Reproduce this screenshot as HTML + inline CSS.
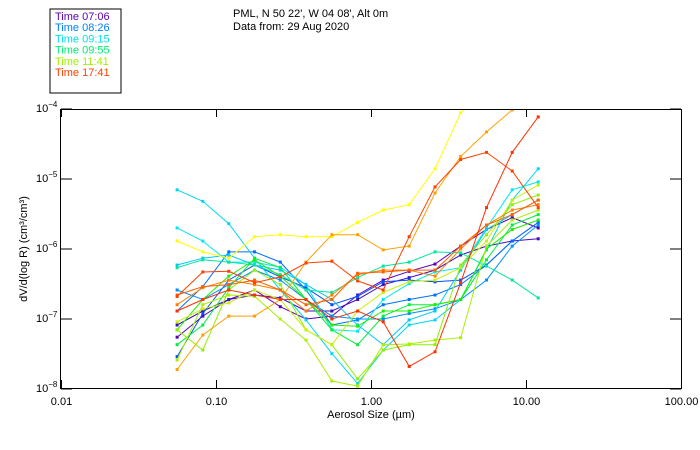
<!DOCTYPE html>
<html><head><meta charset="utf-8"><style>
body{margin:0;background:#fff;}
svg{display:block;font-family:"Liberation Sans",sans-serif;}
</style></head><body>
<svg id="chart" width="700" height="450">
<rect x="50" y="9" width="71" height="84" fill="none" stroke="#000"/>
<g id="legend" font-size="11"></g>
<text x="233" y="17" font-size="11">PML, N 50 22', W 04 08', Alt 0m</text>
<text x="233" y="30" font-size="11">Data from: 29 Aug 2020</text>
<g id="series"></g>
<rect x="60.5" y="109.5" width="621" height="279" fill="none" stroke="#000"/>
<g id="axes" font-size="11"></g>
<text x="371" y="418" font-size="11" text-anchor="middle">Aerosol Size (µm)</text>
<text transform="translate(27,249) rotate(-90)" font-size="11" text-anchor="middle">dV/d(log R) (cm³/cm³)</text>
</svg>
<script>
const sizes=[0.0557,0.0816,0.120,0.176,0.258,0.378,0.555,0.814,1.19,1.75,2.57,3.76,5.52,8.09,11.9];
const xTicks=[0.01,0.1,1,10,100];
const xTickLabels=["0.01","0.10","1.00","10.00","100.00"];
const yTicks=[-4,-5,-6,-7,-8];
const legendLabels=["Time 07:06","Time 08:26","Time 09:15","Time 09:55","Time 11:41","Time 17:41"];
const legendColors=["#5a00b4","#0080ff","#00e0f0","#00f070","#a0f000","#ff4000"];
const seriesColors=["#5a00b4","#4010c0","#0050ff","#0070ff","#0090ff","#00d8f0","#00e8f0","#00c8f8","#00e8a0","#00f040","#20f000","#90f000","#a8f000","#c8f000","#ffff00","#ffa000","#ff8000","#ff6000","#ff4000","#ff3000"];
const pix=[
[337,317,300,290,307,318,315,295,280,271,264,245,230,218,228],
[325,312,300,295,298,310,312,300,285,278,270,255,245,240,238],
[357,313,280,265,277,288,304,297,282,280,282,280,265,240,223],
[310,287,252,252,262,290,325,320,305,300,295,285,265,240,222],
[290,300,285,270,280,300,315,318,318,313,308,300,280,245,225],
[190,201,224,258,290,320,354,383,350,325,320,300,250,200,168],
[228,241,262,262,267,285,330,331,300,284,272,268,228,190,182],
[265,258,255,265,270,285,300,325,345,320,310,270,230,215,200],
[268,260,262,265,275,290,292,278,266,262,252,253,266,280,298],
[345,325,288,258,268,300,330,345,315,305,305,300,260,225,215],
[330,300,276,260,276,300,325,326,310,310,305,300,248,230,220],
[330,350,290,270,285,330,345,378,350,345,345,265,235,205,195],
[360,305,295,297,318,340,380,385,345,344,340,338,245,220,210],
[322,308,303,290,300,330,345,312,292,282,280,268,242,200,185],
[242,252,258,237,235,237,237,222,210,205,168,113,90,80,80],
[370,335,315,315,300,262,235,235,250,245,193,156,132,110,104],
[305,288,280,285,290,310,295,275,270,270,276,248,225,210,205],
[295,287,285,280,290,305,300,273,272,270,270,245,225,215,200],
[297,272,271,283,277,263,261,281,290,237,187,159,153,171,208],
[310,300,290,295,300,300,318,312,322,367,352,283,208,152,117]
];
</script>
<script>
// convert read-off positions to data values once (values stored below)
const seriesValues=pix.map(r=>r.map(p=>Number(Math.pow(10,-4-(p-109)/70).toPrecision(2))));
const NS="http://www.w3.org/2000/svg";
const X0=61.5,XD=155,Y0=109,YD=70;
function xs(v){return X0+(Math.log10(v)+2)*XD;}
function ys(v){return Y0+(-4-Math.log10(v))*YD;}
function mk(t,a,p){const e=document.createElementNS(NS,t);for(const k in a)e.setAttribute(k,a[k]);p.appendChild(e);return e;}
const sg=document.getElementById('series');
const clip=mk('clipPath',{id:'cp'},sg);mk('rect',{x:60,y:109,width:622,height:280},clip);
seriesValues.forEach((vals,i)=>{
  const g=mk('g',{'clip-path':'url(#cp)'},sg);
  
  
  const pts=vals.map((v,j)=>xs(sizes[j]).toFixed(1)+','+ys(v).toFixed(1)).join(' ');
  const pl=mk('polyline',{points:pts,fill:'none',stroke:seriesColors[i],'stroke-width':1},g);
  
  
  vals.forEach((v,j)=>{
    const r=mk('rect',{x:xs(sizes[j])-1.5,y:ys(v)-1.5,width:3,height:3,fill:seriesColors[i]},g);
    
    
  });
});
const ax=document.getElementById('axes');
xTicks.forEach((t,i)=>{
  const x=xs(t);
  const l=mk('line',{x1:x,x2:x,y1:388,y2:380,stroke:'#000'},ax);
  
  
  const l2=mk('line',{x1:x,x2:x,y1:110,y2:117,stroke:'#000'},ax);
  
  
  const tx=mk('text',{x:x,y:405,'text-anchor':'middle'},ax);tx.textContent=xTickLabels[i];
  
  
});
yTicks.forEach(e=>{
  const y=ys(Math.pow(10,e));
  const l=mk('line',{x1:61,x2:72,y1:y,y2:y,stroke:'#000'},ax);
  
  
  const l2=mk('line',{x1:670,x2:681,y1:y,y2:y,stroke:'#000'},ax);
  
  
  const tx=mk('text',{x:36,y:y+3},ax);
  
  
  tx.textContent='10';
  const s=mk('tspan',{dy:-5,'font-size':8},tx);s.textContent='−'+(-e);
});
const lg=document.getElementById('legend');
legendLabels.forEach((t,i)=>{
  const tx=mk('text',{x:55,y:20+i*11.2,fill:legendColors[i]},lg);tx.textContent=t;
  
  
});
</script>
</body></html>
